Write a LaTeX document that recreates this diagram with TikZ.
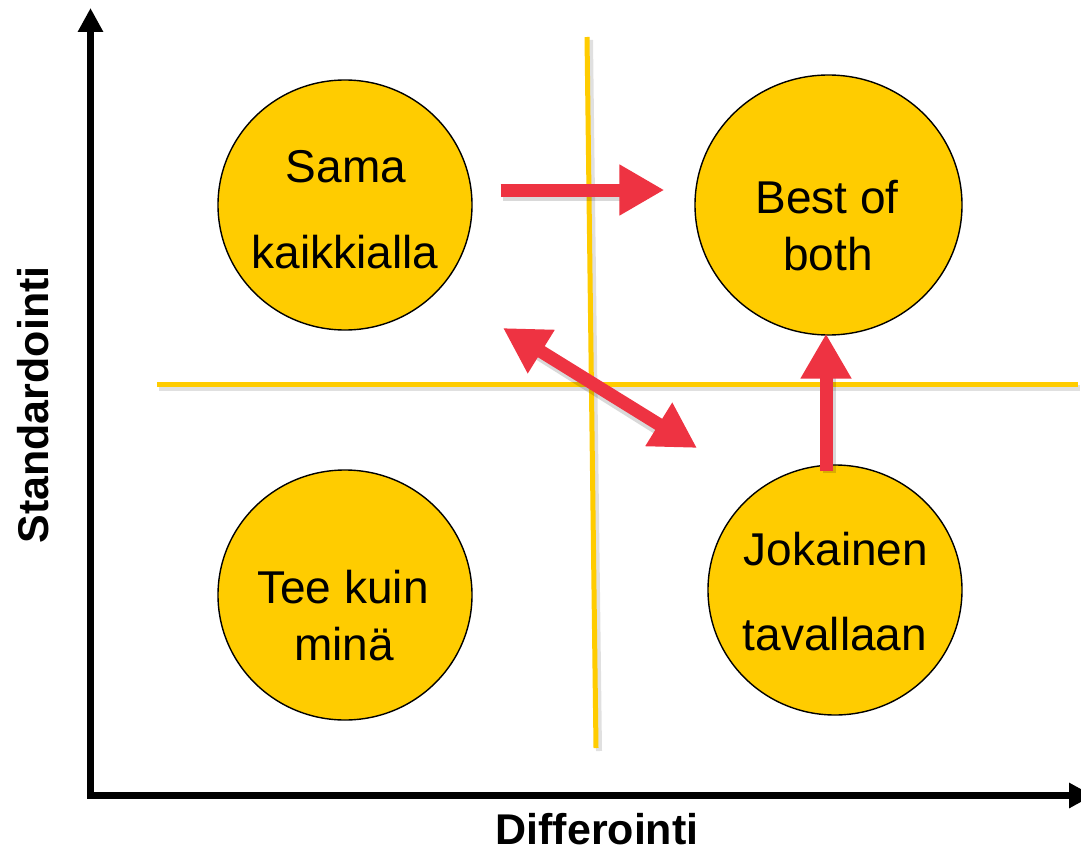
\documentclass[tikz,border=0pt]{standalone}
\usepackage{fontspec}
\setmainfont{Liberation Sans}
\usetikzlibrary{arrows.meta,shapes.geometric,calc}

\definecolor{quadyellow}{RGB}{255,204,0}
\definecolor{arrowred}{RGB}{238,51,66}

\tikzset{
  bubble/.style={ellipse, draw=black, line width=1.4pt, fill=quadyellow,
    inner sep=0pt, minimum width=#1},
  bubble/.default=254pt,
  word/.style={anchor=base, inner sep=0pt, font=\fontsize{46}{46}\selectfont},
  axislabel/.style={inner sep=0pt, font=\bfseries\fontsize{43}{43}\selectfont},
  divider/.style={draw=quadyellow, line width=5pt},
  dividershadow/.style={draw=black, opacity=0.12, line width=6pt},
  move/.style={draw=arrowred, line width=13pt,
    -{Triangle[length=45pt,width=48pt]}},
  swap/.style={draw=arrowred, line width=13pt,
    {Triangle[length=45pt,width=48pt]}-{Triangle[length=45pt,width=48pt]}},
  moveshadow/.style={draw=black, opacity=0.15, line width=13pt},
  axis/.style={draw=black, line width=7pt, line join=miter,
    {Triangle[length=24pt,width=24pt]}-{Triangle[length=24pt,width=24pt]}}
}

\begin{document}
\begin{tikzpicture}[x=1pt,y=-1pt]
\useasboundingbox (0,0) rectangle (1081,851);
\fill[white] (0,0) rectangle (1081,851);

% quadrant dividers
\coordinate (vtop) at (587,37);
\coordinate (vbot) at (596,748);
\coordinate (hleft) at (157,384);
\coordinate (hright) at (1078,384);
\draw[dividershadow] ($(vtop)+(3,3)$) -- ($(vbot)+(3,3)$);
\draw[dividershadow] ($(hleft)+(2,4)$) -- ($(hright)+(2,4)$);
\draw[divider] (vtop) -- (vbot);
\draw[divider] (hleft) -- (hright);

% axes
\coordinate (origin) at (90.5,795.5);
\coordinate (ytip) at (90.5,8);
\coordinate (xtip) at (1093,795.5);
\draw[axis] (ytip) -- (origin) -- (xtip);

\node[axislabel, anchor=base] (xlabel) at (597,844) {Differointi};
\node[axislabel, anchor=base, rotate=90] (ylabel) at (48,405) {Standardointi};

% strategy bubbles
\node[bubble, minimum height=250pt] (sama) at (345,205) {};
\node[bubble=267pt, minimum height=260pt] (best) at (828.5,205) {};
\node[bubble, minimum height=250pt] (tee) at (345,595) {};
\node[bubble, minimum height=250pt] (joka) at (835,590) {};

\node[word] (sama1) at (346,182) {Sama};
\node[word] (sama2) at (345,268) {kaikkialla};
\node[word] (best1) at (827,213) {Best of};
\node[word] (best2) at (828,270) {both};
\node[word] (tee1) at (343,603) {Tee kuin};
\node[word] (tee2) at (344,660) {minä};
\node[word] (joka1) at (836,565) {Jokainen};
\node[word] (joka2) at (835,650) {tavallaan};

% transitions between strategies
\coordinate (m1a) at ($(sama.east)+(28,-15)$);
\coordinate (m1b) at ($(best.west)+(-30,-15)$);
\coordinate (m2a) at ($(sama.center)+(158,123)$);
\coordinate (m2b) at ($(joka.center)+(-138,-142)$);
\coordinate (m3a) at ($(joka.north)+(-9,7)$);
\coordinate (m3b) at ($(best.south)+(-2.5,-2)$);

\draw[moveshadow] ($(m1a)+(2,4)$) -- ($(m1b)+(-40,4)$);
\draw[moveshadow] ($(m2a)+(30,22)$) -- ($(m2b)+(-30,-14)$);
\draw[moveshadow] ($(m3a)+(3,2)$) -- ($(m3b)+(3,40)$);

\draw[move] (m1a) -- (m1b);
\draw[swap] (m2a) -- (m2b);
\draw[move] (m3a) -- (m3b);
\end{tikzpicture}
\end{document}
